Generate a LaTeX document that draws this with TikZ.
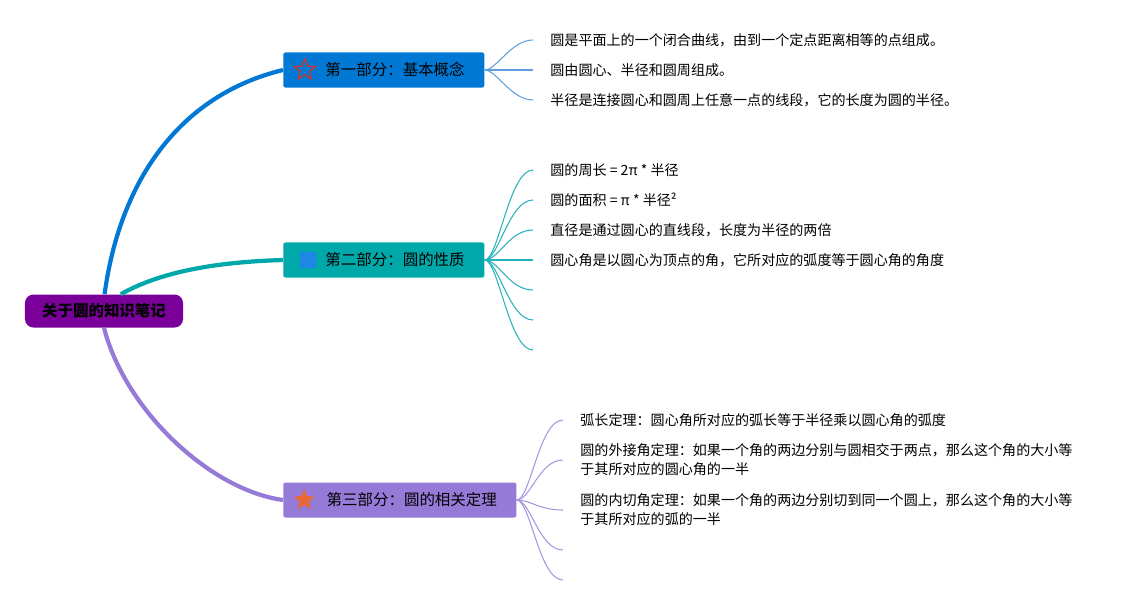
\documentclass[tikz,border=0pt]{standalone}
\usepackage{fontspec}
\setmainfont{Noto Sans CJK SC}
\usepackage{xcolor}
\usepackage{tikz}
\usetikzlibrary{shapes.geometric, positioning}

\definecolor{rootpurple}{RGB}{122,0,153}
\definecolor{partblue}{RGB}{0,120,212}
\definecolor{partteal}{RGB}{0,168,170}
\definecolor{partlav}{RGB}{150,122,215}
\definecolor{leafblue}{RGB}{95,160,222}
\definecolor{leafteal}{RGB}{40,178,188}
\definecolor{leaflav}{RGB}{165,150,225}
\definecolor{starred}{RGB}{190,60,60}
\definecolor{squareblue}{RGB}{30,135,230}
\definecolor{starorange}{RGB}{232,105,50}

\begin{document}
\begin{tikzpicture}[x=0.025cm, y=-0.025cm,
        % Define styles for mind map elements
        rootbox/.style={rectangle, rounded corners=6pt, fill=rootpurple, minimum width=3.95cm, minimum height=0.825cm, font=\fontsize{11pt}{13pt}\selectfont\bfseries, inner sep=0pt},
        partbox/.style={rectangle, rounded corners=1.5pt, anchor=west, minimum height=0.875cm, font=\fontsize{11pt}{13pt}\selectfont, inner sep=0pt},
        leaf/.style={anchor=west, align=left, font=\fontsize{10pt}{13.5pt}\selectfont},
        trunk/.style={line width=3pt},
        twig/.style={line width=0.75pt},
        staricon/.style={star, star points=5, star point ratio=2.3, minimum size=0.55cm, inner sep=0pt}
    ]
        \useasboundingbox (0,0) rectangle (1141,605);

        % --------------------------------------------------------
        % Root
        % --------------------------------------------------------
        \node[rootbox] (root) at (104,311) {关于圆的知识笔记};

        % --------------------------------------------------------
        % Three parts
        % --------------------------------------------------------
        \node[partbox, fill=partblue, minimum width=5.025cm] (part1) at (283,70) {\hspace*{16pt}第一部分：基本概念};
        \node[partbox, fill=partteal, minimum width=5.025cm] (part2) at (283,260) {\hspace*{16pt}第二部分：圆的性质};
        \node[partbox, fill=partlav, minimum width=5.825cm] (part3) at (283,500) {\hspace*{17pt}第三部分：圆的相关定理};

        % Icons in front of the part titles
        \node[staricon, draw=starred, line width=1pt, right=0.36cm of part1.west] (icon1) {};
        \node[rectangle, fill=squareblue, minimum size=0.4cm, inner sep=0pt, right=0.43cm of part2.west] (icon2) {};
        \node[staricon, fill=starorange, right=0.36cm of part3.west] (icon3) {};

        % Trunks from root to parts
        \draw[trunk, partblue] (root.88) .. controls (120,180) and (180,95) .. (part1.west);
        \draw[trunk, partteal] (root.45) .. controls (160,272) and (215,262) .. (part2.west);
        \draw[trunk, partlav] (root.south) .. controls (125,410) and (210,490) .. (part3.west);

        % --------------------------------------------------------
        % PART 1: basic concepts
        % --------------------------------------------------------
        \coordinate (e11) at (533,40);
        \coordinate (e12) at (533,70);
        \coordinate (e13) at (533,100);
        \node[leaf, right=0.31cm of e11] (t11) {圆是平面上的一个闭合曲线，由到一个定点距离相等的点组成。};
        \node[leaf, right=0.31cm of e12] (t12) {圆由圆心、半径和圆周组成。};
        \node[leaf, right=0.31cm of e13] (t13) {半径是连接圆心和圆周上任意一点的线段，它的长度为圆的半径。};
        \draw[twig, leafblue] (part1.east) .. controls +(12,0) and +(-22,0) .. (e11);
        \draw[twig, leafblue] (part1.east) -- (e12);
        \draw[twig, leafblue] (part1.east) .. controls +(12,0) and +(-22,0) .. (e13);

        % --------------------------------------------------------
        % PART 2: properties
        % --------------------------------------------------------
        \coordinate (e21) at (533,170);
        \coordinate (e22) at (533,200);
        \coordinate (e23) at (533,230);
        \coordinate (e24) at (533,260);
        \coordinate (e25) at (533,290);
        \coordinate (e26) at (533,320);
        \coordinate (e27) at (533,350);
        \node[leaf, right=0.31cm of e21] (t21) {圆的周长 = 2π * 半径};
        \node[leaf, right=0.31cm of e22] (t22) {圆的面积 = π * 半径²};
        \node[leaf, right=0.31cm of e23] (t23) {直径是通过圆心的直线段，长度为半径的两倍};
        \node[leaf, right=0.31cm of e24] (t24) {圆心角是以圆心为顶点的角，它所对应的弧度等于圆心角的角度};
        \draw[twig, leafteal] (part2.east) .. controls +(14,0) and +(-24,0) .. (e21);
        \draw[twig, leafteal] (part2.east) .. controls +(14,0) and +(-24,0) .. (e22);
        \draw[twig, leafteal] (part2.east) .. controls +(14,0) and +(-24,0) .. (e23);
        \draw[twig, leafteal] (part2.east) -- (e24);
        \draw[twig, leafteal] (part2.east) .. controls +(14,0) and +(-24,0) .. (e25);
        \draw[twig, leafteal] (part2.east) .. controls +(14,0) and +(-24,0) .. (e26);
        \draw[twig, leafteal] (part2.east) .. controls +(14,0) and +(-24,0) .. (e27);

        % --------------------------------------------------------
        % PART 3: theorems
        % --------------------------------------------------------
        \coordinate (e31) at (563,420);
        \coordinate (e32) at (563,460);
        \coordinate (e33) at (563,510);
        \coordinate (e34) at (563,550);
        \coordinate (e35) at (563,580);
        \node[leaf, right=0.31cm of e31] (t31) {弧长定理：圆心角所对应的弧长等于半径乘以圆心角的弧度};
        \node[leaf, right=0.31cm of e32] (t32) {圆的外接角定理：如果一个角的两边分别与圆相交于两点，那么这个角的大小等\\于其所对应的圆心角的一半};
        \node[leaf, right=0.31cm of e33] (t33) {圆的内切角定理：如果一个角的两边分别切到同一个圆上，那么这个角的大小等\\于其所对应的弧的一半};
        \draw[twig, leaflav] (part3.east) .. controls +(14,0) and +(-24,0) .. (e31);
        \draw[twig, leaflav] (part3.east) .. controls +(14,0) and +(-24,0) .. (e32);
        \draw[twig, leaflav] (part3.east) .. controls +(14,0) and +(-24,0) .. (e33);
        \draw[twig, leaflav] (part3.east) .. controls +(14,0) and +(-24,0) .. (e34);
        \draw[twig, leaflav] (part3.east) .. controls +(14,0) and +(-24,0) .. (e35);

    \end{tikzpicture}
\end{document}
